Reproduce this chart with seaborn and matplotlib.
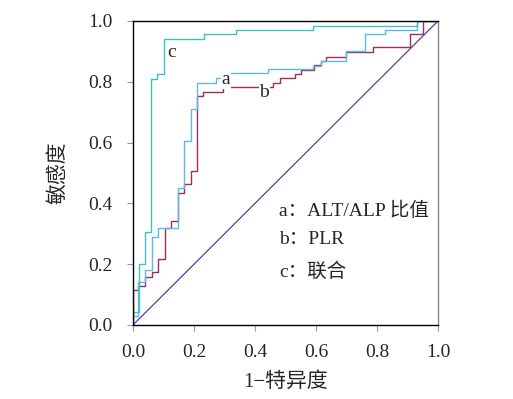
import numpy as np
import pandas as pd
import matplotlib
matplotlib.use("Agg")
import matplotlib.pyplot as plt
import seaborn as sns

# ROC curve corners (1-specificity, sensitivity)
fpr_a = [0, 0, 0.017, 0.017, 0.039, 0.039, 0.061, 0.061, 0.083, 0.083, 0.148, 0.148,
         0.167, 0.167, 0.189, 0.189, 0.211, 0.211, 0.272, 0.272, 0.31, 0.31, 0.444, 0.444,
         0.59, 0.59, 0.615, 0.615, 0.698, 0.698, 0.76, 0.76, 0.826, 0.826, 0.932, 0.932, 1.0]
tpr_a = [0, 0.028, 0.028, 0.142, 0.142, 0.18, 0.18, 0.288, 0.288, 0.318, 0.318, 0.45,
         0.45, 0.606, 0.606, 0.71, 0.71, 0.797, 0.797, 0.811, 0.811, 0.83, 0.83, 0.841,
         0.841, 0.852, 0.852, 0.869, 0.869, 0.90, 0.90, 0.957, 0.957, 0.97, 0.97, 1.0, 1.0]

fpr_b = [0, 0, 0.017, 0.017, 0.039, 0.039, 0.061, 0.061, 0.083, 0.083, 0.105, 0.105,
         0.124, 0.124, 0.147, 0.147, 0.167, 0.167, 0.189, 0.189, 0.211, 0.211, 0.23, 0.23,
         0.294, 0.294, 0.46, 0.46, 0.482, 0.482, 0.531, 0.531, 0.55, 0.55, 0.593, 0.593,
         0.615, 0.615, 0.633, 0.633, 0.698, 0.698, 0.786, 0.786, 0.908, 0.908, 0.95, 0.95, 1.0]
tpr_b = [0, 0.115, 0.115, 0.128, 0.128, 0.159, 0.159, 0.175, 0.175, 0.216, 0.216, 0.318,
         0.318, 0.343, 0.343, 0.433, 0.433, 0.463, 0.463, 0.508, 0.508, 0.753, 0.753, 0.767,
         0.767, 0.782, 0.782, 0.797, 0.797, 0.811, 0.811, 0.826, 0.826, 0.839, 0.839, 0.855,
         0.855, 0.868, 0.868, 0.882, 0.882, 0.898, 0.898, 0.913, 0.913, 0.957, 0.957, 1.0, 1.0]

fpr_c = [0, 0, 0.019, 0.019, 0.038, 0.038, 0.058, 0.058, 0.08, 0.08, 0.10, 0.10,
         0.233, 0.233, 0.339, 0.339, 0.59, 0.59, 0.93, 0.93, 1.0]
tpr_c = [0, 0.044, 0.044, 0.20, 0.20, 0.305, 0.305, 0.81, 0.81, 0.824, 0.824, 0.94,
         0.94, 0.956, 0.956, 0.97, 0.97, 0.984, 0.984, 1.0, 1.0]

ref_line = [0, 1]
ticks = [0.0, 0.2, 0.4, 0.6, 0.8, 1.0]

sns.set_style("ticks")
plt.rcParams['font.family'] = ['Liberation Serif', 'Noto Sans CJK SC']

fig = plt.figure(figsize=(5.13, 3.99), dpi=100)
ax = fig.add_axes([0.2593, 0.1855, 0.5945, 0.7619])

df_a = pd.DataFrame({"x": fpr_a, "y": tpr_a})
df_b = pd.DataFrame({"x": fpr_b, "y": tpr_b})
df_c = pd.DataFrame({"x": fpr_c, "y": tpr_c})
df_r = pd.DataFrame({"x": ref_line, "y": ref_line})

sns.lineplot(data=df_r, x="x", y="y", sort=False, estimator=None, color="#5a3c9e", lw=0.9, ax=ax)
sns.lineplot(data=df_b, x="x", y="y", sort=False, estimator=None, color="#9c2f62", lw=1.0, ax=ax)
sns.lineplot(data=df_a, x="x", y="y", sort=False, estimator=None, color="#5fb8e8", lw=1.0, ax=ax)
sns.lineplot(data=df_c, x="x", y="y", sort=False, estimator=None, color="#3cc4bc", lw=1.0, ax=ax)

ax.set_xlim(0, 1)
ax.set_ylim(0, 1)
ax.set_xticks(ticks)
ax.set_yticks(ticks)
ax.set_xticklabels([f"{t:.1f}" for t in ticks])
ax.set_yticklabels([f"{t:.1f}" for t in ticks])
ax.tick_params(axis="both", direction="out", length=4, width=0.8, color="#999999",
               labelsize=14, pad=10)
ax.tick_params(axis="y", pad=11)

for s in ["left", "top", "bottom"]:
    ax.spines[s].set_color("black")
    ax.spines[s].set_linewidth(1.0)
ax.spines["right"].set_color("#888888")
ax.spines["right"].set_linewidth(1.0)

ax.set_xlabel("1−特异度", fontsize=15, labelpad=8)
ax.set_ylabel("敏感度", fontsize=15, labelpad=14)

box = dict(facecolor="white", edgecolor="none", pad=0.5)
ax.text(0.305, 0.808, "a", fontsize=14, ha="center", va="center", bbox=box)
ax.text(0.43, 0.765, "b", fontsize=14, ha="center", va="center", bbox=box)
ax.text(0.125, 0.895, "c", fontsize=14, ha="center", va="center")

ax.text(0.48, 0.375, "a：ALT/ALP 比值", fontsize=14, ha="left", va="center")
ax.text(0.48, 0.28, "b：PLR", fontsize=14, ha="left", va="center")
ax.text(0.48, 0.175, "c：联合", fontsize=14, ha="left", va="center")

fig.savefig("out.png", dpi=100)
